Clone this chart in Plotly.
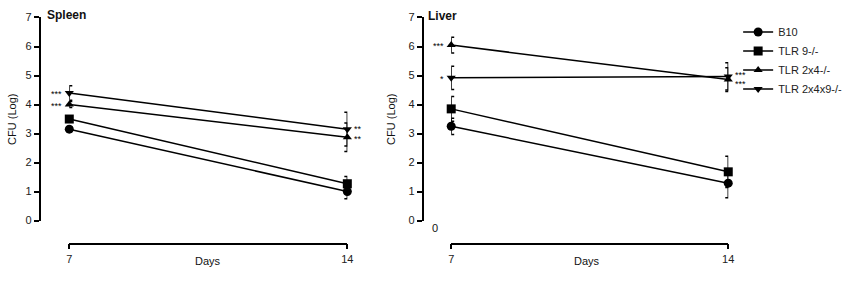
import plotly.graph_objects as go

W, H = 851, 285

days = [7, 14]
groups = ["B10", "TLR 9-/-", "TLR 2x4-/-", "TLR 2x4x9-/-"]
symbols = ["circle", "square", "triangle-up", "triangle-down"]
sizes = [9, 9, 8, 8]

spleen_vals = {
    "B10": [3.15, 1.0],
    "TLR 9-/-": [3.5, 1.27],
    "TLR 2x4-/-": [4.0, 2.87],
    "TLR 2x4x9-/-": [4.4, 3.15],
}
spleen_err = {
    "B10": [0.08, 0.25],
    "TLR 9-/-": [0.08, 0.25],
    "TLR 2x4-/-": [0.1, 0.49],
    "TLR 2x4x9-/-": [0.25, 0.58],
}
liver_vals = {
    "B10": [3.25, 1.29],
    "TLR 9-/-": [3.85, 1.68],
    "TLR 2x4-/-": [6.05, 4.86],
    "TLR 2x4x9-/-": [4.92, 4.97],
}
liver_err = {
    "B10": [0.28, 0.5],
    "TLR 9-/-": [0.43, 0.54],
    "TLR 2x4-/-": [0.27, 0.41],
    "TLR 2x4x9-/-": [0.4, 0.47],
}
# significance marks: (panel, group, day index, text, vertical nudge px)
sig_marks = [
    ("spleen", "TLR 2x4x9-/-", 0, "***", 0),
    ("spleen", "TLR 2x4-/-", 0, "***", 0),
    ("spleen", "TLR 2x4x9-/-", 1, "**", 1),
    ("spleen", "TLR 2x4-/-", 1, "**", -1),
    ("liver", "TLR 2x4-/-", 0, "***", 0),
    ("liver", "TLR 2x4x9-/-", 0, "*", 0),
    ("liver", "TLR 2x4x9-/-", 1, "***", 2),
    ("liver", "TLR 2x4-/-", 1, "***", -3),
]
y_ticks = [0, 1, 2, 3, 4, 5, 6, 7]
x_ticks = [7, 14]

FONT = "Liberation Sans, Arial, sans-serif"


def px(x):
    return x / W


def py(y):
    return 1 - y / H


fig = go.Figure()

panels = [
    ("spleen", spleen_vals, spleen_err, "x", "y"),
    ("liver", liver_vals, liver_err, "x2", "y2"),
]
for pname, vals, errs, xa, ya in panels:
    for g, sym, sz in zip(groups, symbols, sizes):
        fig.add_trace(go.Scatter(
            x=days, y=vals[g], name=g, mode="lines+markers",
            xaxis=xa, yaxis=ya,
            line=dict(color="black", width=1.5),
            marker=dict(symbol=sym, size=sz, color="black"),
            error_y=dict(type="data", array=errs[g], visible=True,
                         color="black", thickness=1.5, width=3),
            cliponaxis=False,
            showlegend=(pname == "liver"),
        ))

axis_common = dict(showgrid=False, zeroline=False, showline=True,
                   linecolor="black", linewidth=1.5, ticks="outside",
                   ticklen=5, tickwidth=1.5, tickcolor="black",
                   tickfont=dict(family=FONT, size=11, color="#222"))

yd = [py(224), py(12)]
fig.update_layout(
    width=W, height=H,
    margin=dict(l=0, r=0, t=0, b=0),
    paper_bgcolor="white", plot_bgcolor="white",
    font=dict(family=FONT, size=11, color="black"),
    xaxis=dict(domain=[px(67), px(348)], range=[7, 14], anchor="free",
               position=py(248), tickvals=x_ticks, **axis_common),
    yaxis=dict(domain=yd, range=[0, 7], anchor="free", position=px(37),
               tickvals=y_ticks, **axis_common),
    xaxis2=dict(domain=[px(453), px(733)], range=[7, 14], anchor="free",
                position=py(248), tickvals=x_ticks, **axis_common),
    yaxis2=dict(domain=yd, range=[0, 7], anchor="free", position=px(424),
                tickvals=y_ticks, **axis_common),
    legend=dict(x=px(743), y=py(12), xanchor="left", yanchor="top",
                font=dict(family=FONT, size=11, color="#222"),
                bgcolor="rgba(0,0,0,0)", tracegroupgap=0, itemwidth=30),
)


def label(text, x, y, size=11, bold=False, angle=0, xanchor="center"):
    fig.add_annotation(text=f"<b>{text}</b>" if bold else text,
                       x=px(x), y=py(y), xref="paper", yref="paper",
                       xanchor=xanchor, yanchor="middle", showarrow=False,
                       textangle=angle,
                       font=dict(size=size, family=FONT, color="#111"))


# panel titles, axis titles
label("Spleen", 42, 9, size=12, bold=True, xanchor="left")
label("Liver", 428, 10, size=12, bold=True, xanchor="left")
label("Days", 207, 266)
label("Days", 590, 266)
label("CFU (Log)", 9, 118, angle=-90)
label("CFU (Log)", 392, 118, angle=-90)
label("0", 437, 232)

for pname, g, di, txt, nudge in sig_marks:
    vals = spleen_vals if pname == "spleen" else liver_vals
    xr, yr = ("x", "y") if pname == "spleen" else ("x2", "y2")
    left = di == 0
    fig.add_annotation(text=txt, x=days[di], y=vals[g][di], xref=xr, yref=yr,
                       xanchor="right" if left else "left", yanchor="middle",
                       xshift=-5 if left else 5, yshift=nudge - 1,
                       showarrow=False,
                       font=dict(size=9, family=FONT, color="black"))

fig.write_html("out.html", config={"displayModeBar": False},
               post_script="document.body.style.margin='0';"
                           "document.documentElement.style.overflow='hidden';")
